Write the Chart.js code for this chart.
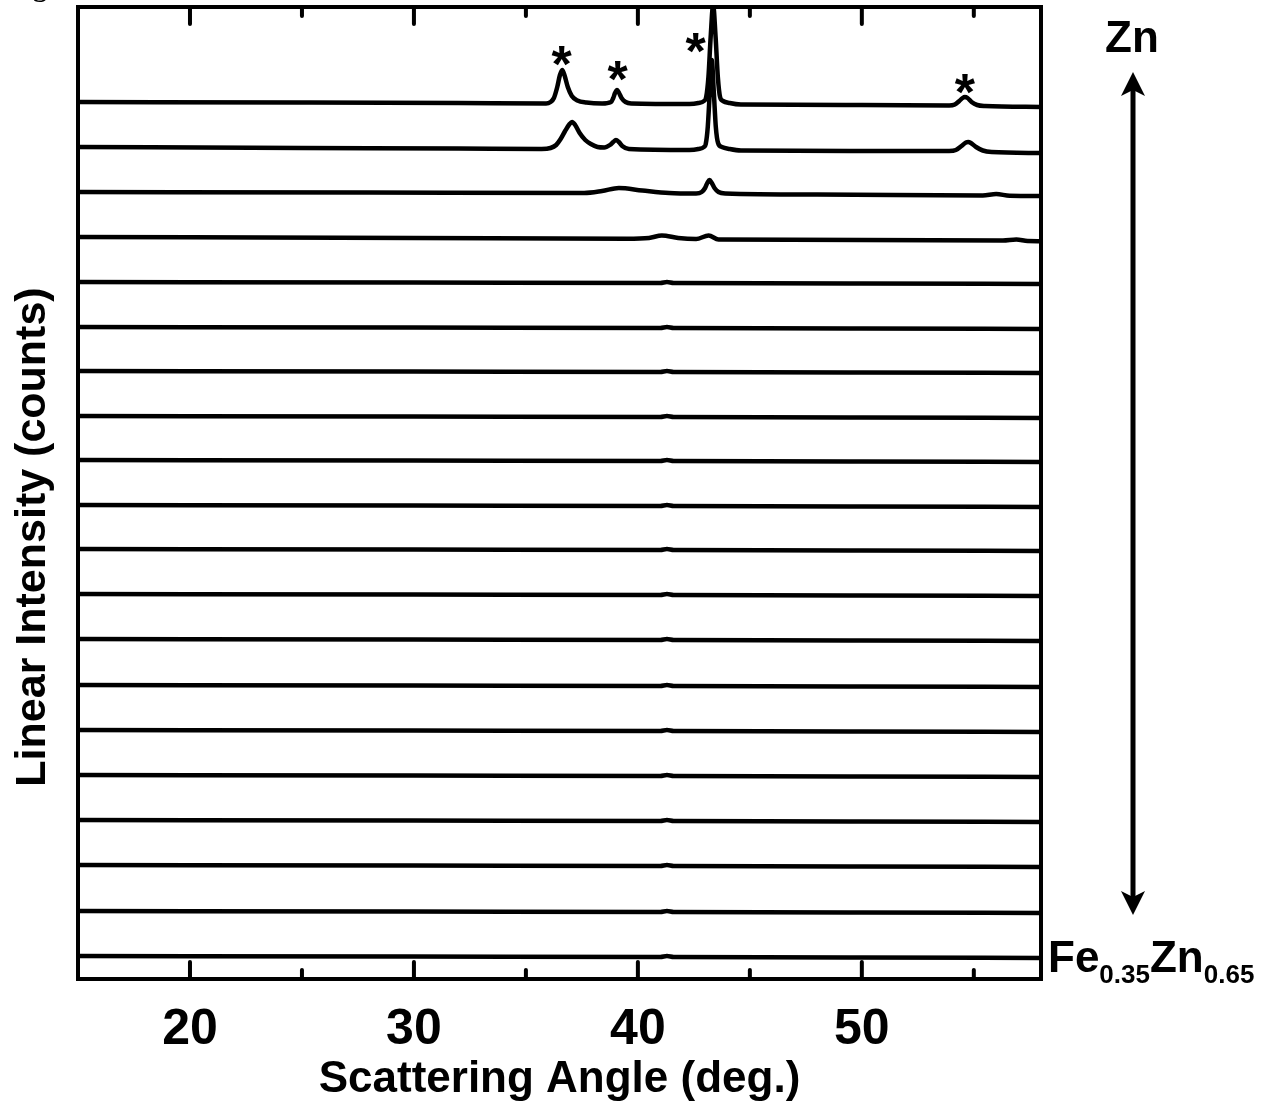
<!DOCTYPE html>
<html>
<head>
<meta charset="utf-8">
<script src="https://cdn.jsdelivr.net/npm/chart.js@4.4.1/dist/chart.umd.min.js"></script>
<style>
html,body{margin:0;padding:0;background:#fff;}
#wrap{position:relative;width:1276px;height:1114px;overflow:hidden;background:#fff;}
#c{position:absolute;left:0;top:0;}
.lbl{position:absolute;font-family:"Liberation Sans",Arial,Helvetica,sans-serif;font-weight:bold;color:#000;white-space:nowrap;line-height:1;}
.sb{font-size:26px;position:relative;top:11px;}
#arrow{position:absolute;left:0;top:0;}
</style>
</head>
<body>
<div id="wrap">
<canvas id="c" width="1276" height="1114"></canvas>
<div class="lbl" style="left:33px;top:-27px;font-family:'Liberation Serif','Times New Roman',serif;font-size:28px;">g</div>
<div class="lbl" style="left:1105px;top:15px;font-size:44px;">Zn</div>
<div class="lbl" style="left:1048px;top:935px;font-size:44px;">Fe<span class="sb">0.35</span>Zn<span class="sb">0.65</span></div>
<svg id="arrow" width="1276" height="1114" viewBox="0 0 1276 1114">
  <line x1="1133" y1="86" x2="1133" y2="900" stroke="#000" stroke-width="5"/>
  <path d="M1133,72 L1145,96 L1133,90 L1121,96 Z" fill="#000"/>
  <path d="M1133,915 L1145,891 L1133,897 L1121,891 Z" fill="#000"/>
</svg>
</div>
<script>
// ---- data ----
// x axis (scattering angle, deg.)
const xMin = 15;
const xMax = 58;
const xTickValues = [20, 30, 40, 50];
const xMinorTickValues = [25, 35, 45, 55];

// vertical offsets (counts) of the 20 stacked patterns, top (Zn) to bottom (Fe0.35Zn0.65)
const traceOffsets = [877, 832, 787, 742, 697, 652, 608, 563, 519, 474, 430, 385, 340, 294, 249, 204, 159, 114, 68, 23];

// pattern 1 (Zn): [angle, intensity above offset]
const trace01 = [
  [15, 0], [25, -0.5], [32, -1], [35.9, -1.5], [36.1, 0], [36.25, 4], [36.4, 15], [36.52, 27], [36.62, 32],
  [36.72, 27], [36.87, 15], [37.05, 6], [37.3, 1.5], [37.7, -0.5], [38.4, -1.5],
  [38.8, 0], [38.9, 4], [38.98, 9], [39.07, 12], [39.16, 9], [39.27, 4], [39.45, 0], [39.7, -1.5],
  [42.3, -2], [42.7, -1], [42.95, 1], [43.05, 5], [43.15, 25], [43.25, 65], [43.36, 97], [43.47, 65],
  [43.57, 25], [43.67, 5], [43.8, 1], [44.1, -1], [44.6, -2.5], [50, -3],
  [53.9, -3.5], [54.15, -2.5], [54.35, 1], [54.5, 4], [54.6, 5], [54.72, 4], [54.9, 0], [55.15, -3], [55.5, -4], [58, -5]
];
// pattern 2
const trace02 = [
  [15, 0], [25, -1], [32, -1.5], [35.7, -2], [36.1, -1], [36.35, 2], [36.55, 8], [36.75, 16], [36.95, 23],
  [37.06, 25], [37.2, 22], [37.4, 14], [37.65, 7], [37.9, 3], [38.2, 0], [38.5, -0.5], [38.75, 2],
  [38.9, 5], [39.02, 7], [39.15, 5], [39.3, 1], [39.6, -2],
  [42.3, -3], [42.7, -2], [42.95, 0], [43.03, 3], [43.12, 20], [43.21, 55], [43.3, 87], [43.39, 55],
  [43.48, 20], [43.58, 4], [43.75, 0], [44.1, -2], [44.6, -3.5], [50, -4],
  [53.9, -4], [54.2, -3], [54.45, 1], [54.65, 4.5], [54.75, 5], [54.87, 4], [55.1, 0], [55.4, -3.5], [55.8, -5], [58, -6]
];
// pattern 3
const trace03 = [
  [15, 0], [28, -0.5], [37.6, -1], [38.4, 1], [39.15, 4], [40.2, 1.5], [41.4, -1], [42.6, -1.5],
  [42.85, 0], [43.0, 4], [43.1, 9], [43.2, 12], [43.3, 9], [43.42, 4], [43.6, 0], [43.9, -1.5],
  [48, -2.5], [55.4, -3.5], [56.0, -2], [56.6, -3.8], [58, -4]
];
// pattern 4
const trace04 = [
  [15, 0], [30, -1], [39.5, -1.8], [40.5, -1], [41.07, 1.5], [41.8, -1], [42.6, -2], [43.16, 1.5],
  [43.6, -2.5], [50, -3], [56.3, -3.5], [56.9, -2.5], [57.4, -4], [58, -4.2]
];
// patterns 5-20 (nearly featureless)
const traceFlat = [
  [15, 0], [30, -0.5], [41.0, -1], [41.3, 0], [41.6, -1], [50, -1.5], [58, -2]
];
const traceProfiles = [trace01, trace02, trace03, trace04,
  traceFlat, traceFlat, traceFlat, traceFlat, traceFlat, traceFlat, traceFlat, traceFlat,
  traceFlat, traceFlat, traceFlat, traceFlat, traceFlat, traceFlat, traceFlat, traceFlat];

// asterisk markers (angle, counts)
const starMarks = [[36.6, 926], [39.1, 911], [42.58, 939], [54.6, 898]];

const yMin = 0;
const yMax = 972;
const xTitle = 'Scattering Angle (deg.)';
const yTitle = 'Linear Intensity (counts)';

// ---- chart ----
const FONT = '"Liberation Sans", Arial, Helvetica, sans-serif';

const datasets = traceProfiles.map((prof, i) => ({
  label: 'pattern ' + (i + 1),
  data: prof.map(p => ({ x: p[0], y: traceOffsets[i] + p[1] })),
  borderColor: '#000',
  borderWidth: 4.5,
  pointRadius: 0,
  fill: false,
  cubicInterpolationMode: 'monotone',
  tension: 0.4,
  borderCapStyle: 'round',
  borderJoinStyle: 'round'
}));

const decor = {
  id: 'decor',
  afterDatasetsDraw(chart) {
    const { ctx, chartArea: a, scales } = chart;
    const x = scales.x, y = scales.y;
    ctx.save();
    ctx.strokeStyle = '#000';
    ctx.fillStyle = '#000';
    ctx.lineWidth = 4;
    ctx.strokeRect(a.left, a.top, a.right - a.left, a.bottom - a.top);
    ctx.lineCap = 'round';
    const tick = (v, len) => {
      const px = x.getPixelForValue(v);
      ctx.beginPath();
      ctx.moveTo(px, a.bottom); ctx.lineTo(px, a.bottom - len);
      ctx.moveTo(px, a.top); ctx.lineTo(px, a.top + len);
      ctx.stroke();
    };
    xTickValues.forEach(v => tick(v, 17));
    xMinorTickValues.forEach(v => tick(v, 9));
    // asterisks
    ctx.font = 'bold 52px ' + FONT;
    ctx.textAlign = 'center';
    ctx.textBaseline = 'alphabetic';
    starMarks.forEach(s => {
      ctx.fillText('*', x.getPixelForValue(s[0]), y.getPixelForValue(s[1]) + 29);
    });
    // y title
    ctx.translate(33, 537);
    ctx.rotate(-Math.PI / 2);
    ctx.font = 'bold 43px ' + FONT;
    ctx.textBaseline = 'middle';
    ctx.fillText(yTitle, 0, 0);
    ctx.restore();
  }
};

new Chart(document.getElementById('c'), {
  type: 'line',
  data: { datasets },
  options: {
    responsive: false,
    animation: false,
    devicePixelRatio: 1,
    layout: { padding: { left: 0, top: 7, right: 235, bottom: 0 } },
    plugins: { legend: { display: false }, tooltip: { enabled: false } },
    scales: {
      x: {
        type: 'linear',
        min: xMin,
        max: xMax,
        grid: { display: false, drawTicks: false },
        border: { display: false },
        afterBuildTicks: s => { s.ticks = xTickValues.map(v => ({ value: v })); },
        afterFit: s => { s.height = 135; },
        ticks: {
          color: '#000',
          padding: 21,
          maxRotation: 0,
          font: { family: FONT, size: 50, weight: 'bold', lineHeight: 1.2 },
          callback: v => String(v)
        },
        title: {
          display: true,
          text: xTitle,
          color: '#000',
          font: { family: FONT, size: 44, weight: 'bold', lineHeight: 1.2 },
          padding: { top: 0, bottom: 8 }
        }
      },
      y: {
        type: 'linear',
        min: yMin,
        max: yMax,
        grid: { display: false, drawTicks: false },
        border: { display: false },
        ticks: { display: false },
        afterFit: s => { s.width = 78; }
      }
    }
  },
  plugins: [decor]
});
</script>
</body>
</html>
